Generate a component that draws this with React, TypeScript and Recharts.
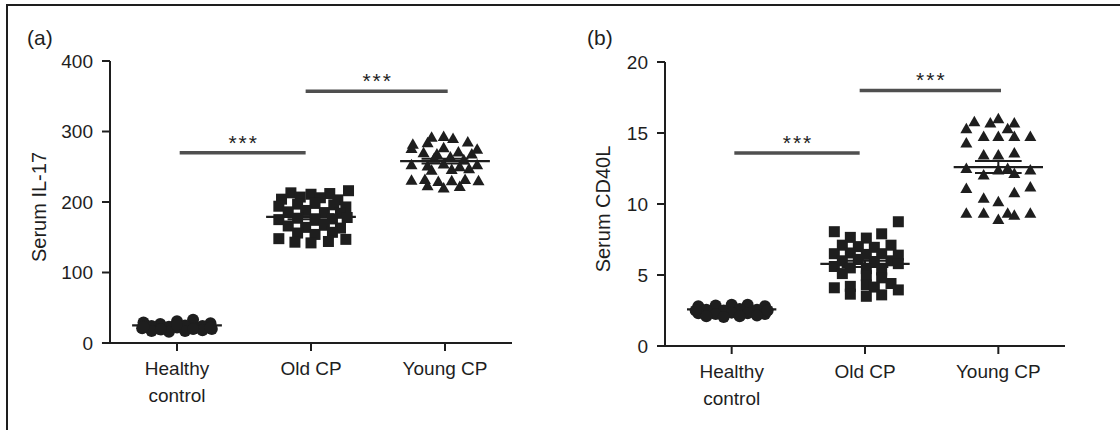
import React from 'react';
import { ScatterChart, Scatter, XAxis, YAxis, ReferenceLine } from 'recharts';

const FONT = '"Liberation Sans", Arial, Helvetica, sans-serif';
const INK = '#1e1e1e';
const BAR = '#4f4f4f';

const GROUP_TICKS = [0, 1, 2];
const GROUP_LABELS = [['Healthy', 'control'], ['Old CP'], ['Young CP']];

// ---- Panel (a): Serum IL-17 ----
const IL17_TICKS = [0, 100, 200, 300, 400];
const IL17_HEALTHY = [29, 27, 31, 33, 28, 24, 23, 25, 24, 21, 20, 22, 21, 20, 17, 16, 17, 18, 23, 19, 26, 20, 22];
const IL17_HEALTHY_JIT = [-0.25, -0.125, 0, 0.12, 0.25, -0.19, -0.06, 0.06, 0.19, -0.26, -0.13, 0, 0.13, 0.26, -0.19, -0.06, 0.06, 0.19, -0.25, -0.12, 0, 0.12, 0.25];
const IL17_OLD = [213, 211, 212, 216, 204, 207, 206, 203, 194, 197, 198, 196, 193, 186, 188, 185, 184, 175, 177, 174, 176, 178, 166, 164, 167, 163, 156, 154, 157, 148, 143, 142, 144, 147];
const IL17_OLD_JIT = [-0.15, 0, 0.14, 0.28, -0.22, -0.08, 0.07, 0.2, -0.24, -0.1, 0.03, 0.17, 0.26, -0.17, -0.04, 0.1, 0.22, -0.24, -0.1, 0.03, 0.16, 0.27, -0.17, -0.04, 0.1, 0.22, -0.1, 0.03, 0.16, -0.24, -0.12, 0, 0.13, 0.26];
const IL17_YOUNG = [292, 293, 290, 282, 284, 285, 276, 277, 275, 270, 268, 271, 268, 262, 264, 260, 253, 251, 254, 250, 253, 245, 246, 247, 231, 232, 229, 230, 232, 230, 223, 220, 222];
const IL17_YOUNG_JIT = [-0.1, -0.01, 0.06, -0.24, -0.13, 0.17, -0.25, -0.01, 0.24, -0.16, -0.06, 0.1, 0.2, -0.08, 0.04, 0.14, -0.25, -0.13, -0.01, 0.11, 0.24, -0.1, 0.05, 0.18, -0.25, -0.15, -0.05, 0.05, 0.15, 0.25, -0.13, -0.01, 0.11];
const IL17_MEANS = [25, 179, 258];
const IL17_SEM = [1.2, 3.5, 3.5];
const IL17_SIG_FROM = [0.02, 0.96];
const IL17_SIG_TO = [0.96, 2.02];
const IL17_SIG_Y = [270, 357];

// ---- Panel (b): Serum CD40L ----
const CD40L_TICKS = [0, 5, 10, 15, 20];
const CD40L_HEALTHY = [2.8, 2.85, 2.9, 2.9, 2.8, 2.55, 2.5, 2.6, 2.55, 2.3, 2.25, 2.35, 2.3, 2.25, 2.1, 2.05, 2.1, 2.15, 2.5, 2.5];
const CD40L_HEALTHY_JIT = [-0.25, -0.12, 0, 0.12, 0.25, -0.19, -0.06, 0.06, 0.19, -0.25, -0.12, 0, 0.12, 0.25, -0.19, -0.06, 0.06, 0.19, -0.27, 0.27];
const CD40L_OLD = [8.05, 8.75, 7.9, 7.65, 7.6, 7.1, 7.0, 6.95, 7.1, 6.5, 6.55, 6.45, 6.5, 6.4, 6.0, 6.1, 5.95, 6.0, 5.6, 5.5, 5.45, 5.35, 5.8, 5.1, 4.95, 4.8, 4.1, 4.2, 4.3, 4.15, 4.4, 3.95, 3.65, 3.5, 3.6];
const CD40L_OLD_JIT = [-0.23, 0.25, 0.125, -0.11, 0.01, -0.17, -0.05, 0.07, 0.195, -0.23, -0.11, 0.01, 0.125, 0.25, -0.17, -0.05, 0.07, 0.195, -0.23, -0.11, 0.01, 0.125, 0.25, -0.17, 0.01, 0.125, -0.23, -0.11, 0.01, 0.07, 0.195, 0.25, -0.11, 0.01, 0.125];
const CD40L_YOUNG = [15.3, 15.8, 15.7, 16.0, 15.3, 15.7, 14.75, 14.3, 14.75, 14.75, 14.75, 13.45, 13.45, 13.6, 12.5, 12.05, 12.4, 12.5, 12.15, 12.4, 11.1, 10.4, 10.15, 10.8, 11.2, 9.35, 9.35, 8.9, 9.35, 9.2, 9.35];
const CD40L_YOUNG_JIT = [-0.24, -0.18, -0.06, 0, 0.07, 0.12, 0.24, -0.24, -0.11, 0, 0.12, -0.11, 0, 0.12, -0.24, -0.11, 0, 0.07, 0.12, 0.24, -0.24, -0.11, 0, 0.12, 0.24, -0.24, -0.11, 0, 0.07, 0.12, 0.24];
const CD40L_MEANS = [2.58, 5.78, 12.6];
const CD40L_SEM = [0.05, 0.22, 0.42];
const CD40L_SIG_FROM = [0.02, 0.96];
const CD40L_SIG_TO = [0.96, 2.02];
const CD40L_SIG_Y = [13.6, 18.0];

type Pt = { x: number; y: number };
const toPoints = (g: number, vals: number[], jit: number[]): Pt[] => vals.map((v, i) => ({ x: g + jit[i], y: v }));

const CircleShape = (p: any) => <circle cx={p.cx} cy={p.cy} r={6} fill={INK} />;
const SquareShape = (p: any) => <rect x={p.cx - 5.5} y={p.cy - 5.5} width={11} height={11} fill={INK} />;
const TriangleShape = (p: any) => (
  <path d={`M${p.cx},${p.cy - 6} L${p.cx + 6},${p.cy + 4.5} L${p.cx - 6},${p.cy + 4.5} Z`} fill={INK} />
);
const StarShape = (p: any) => (
  <text x={p.cx + 1} y={p.cy - 3} textAnchor="middle" fontSize={21} letterSpacing={2} fill={INK} fontFamily={FONT}>
    ***
  </text>
);

const XTick = (p: any) => {
  const lines = GROUP_LABELS[Math.round(p.payload.value)] || [];
  return (
    <text x={p.x} y={p.y} textAnchor="middle" fontSize={19} fill={INK} fontFamily={FONT}>
      {lines.map((l, i) => (
        <tspan key={i} x={p.x} dy={i === 0 ? 22 : 26.5}>
          {l}
        </tspan>
      ))}
    </text>
  );
};

const YTitle = ({ tx, ty, text }: any) => (
  <text x={tx} y={ty} transform={`rotate(-90, ${tx}, ${ty})`} textAnchor="middle" fontSize={20} fill={INK} fontFamily={FONT}>
    {text}
  </text>
);

type PanelProps = {
  left: number;
  letter: string;
  title: string;
  titleX: number;
  ticks: number[];
  max: number;
  margin: { top: number; right: number; bottom: number; left: number };
  series: Pt[][];
  means: number[];
  sems: number[];
  sigFrom: number[];
  sigTo: number[];
  sigY: number[];
};

const SHAPES = [CircleShape, SquareShape, TriangleShape];

function Panel(props: PanelProps) {
  const { left, letter, title, titleX, ticks, max, margin, series, means, sems, sigFrom, sigTo, sigY } = props;
  const plotMidY = margin.top + (430 - margin.top - margin.bottom - 70) / 2 + 5;
  const stars = sigY.map((y, i) => ({ x: (sigFrom[i] + sigTo[i]) / 2, y }));
  return (
    <div style={{ position: 'absolute', left, top: 0, width: 560, height: 430 }}>
      <div style={{ position: 'absolute', left: 27, top: 26, fontSize: 21, fontFamily: FONT, color: INK, lineHeight: '24px' }}>
        {letter}
      </div>
      <ScatterChart width={560} height={430} margin={margin}>
        <XAxis
          type="number"
          dataKey="x"
          domain={[-0.5, 2.5]}
          ticks={GROUP_TICKS}
          interval={0}
          allowDataOverflow
          axisLine={false}
          tickLine={{ stroke: INK, strokeWidth: 2 }}
          tickSize={8}
          height={70}
          tick={<XTick />}
        />
        <YAxis
          type="number"
          dataKey="y"
          domain={[0, max]}
          ticks={ticks}
          interval={0}
          allowDataOverflow
          axisLine={{ stroke: INK, strokeWidth: 2 }}
          tickLine={{ stroke: INK, strokeWidth: 2 }}
          tickSize={8}
          tickMargin={9}
          width={70}
          tick={{ fontSize: 19, fill: INK, fontFamily: FONT }}
          label={<YTitle tx={titleX} ty={plotMidY} text={title} />}
        />
        <ReferenceLine
          segment={[{ x: -0.56, y: 0 }, { x: 2.5, y: 0 }]}
          stroke={INK}
          strokeWidth={2}
          ifOverflow="visible"
        />
        {series.map((pts, g) => (
          <Scatter key={g} data={pts} shape={SHAPES[g]} isAnimationActive={false} />
        ))}
        {means.map((m, g) => (
          <ReferenceLine key={'m' + g} segment={[{ x: g - 0.335, y: m }, { x: g + 0.335, y: m }]} stroke={INK} strokeWidth={2.2} ifOverflow="visible" />
        ))}
        {means.map((m, g) => (
          <ReferenceLine key={'su' + g} segment={[{ x: g - 0.175, y: m + sems[g] }, { x: g + 0.175, y: m + sems[g] }]} stroke={INK} strokeWidth={2} ifOverflow="visible" />
        ))}
        {means.map((m, g) => (
          <ReferenceLine key={'sl' + g} segment={[{ x: g - 0.175, y: m - sems[g] }, { x: g + 0.175, y: m - sems[g] }]} stroke={INK} strokeWidth={2} ifOverflow="visible" />
        ))}
        {means.map((m, g) => (
          <ReferenceLine key={'sv' + g} segment={[{ x: g, y: m - sems[g] }, { x: g, y: m + sems[g] }]} stroke={INK} strokeWidth={2} ifOverflow="visible" />
        ))}
        {sigY.map((y, i) => (
          <ReferenceLine key={'s' + i} segment={[{ x: sigFrom[i], y }, { x: sigTo[i], y }]} stroke={BAR} strokeWidth={3.5} ifOverflow="visible" />
        ))}
        <Scatter data={stars} shape={StarShape} isAnimationActive={false} />
      </ScatterChart>
    </div>
  );
}

export default function App() {
  const seriesA = [
    toPoints(0, IL17_HEALTHY, IL17_HEALTHY_JIT),
    toPoints(1, IL17_OLD, IL17_OLD_JIT),
    toPoints(2, IL17_YOUNG, IL17_YOUNG_JIT),
  ];
  const seriesB = [
    toPoints(0, CD40L_HEALTHY, CD40L_HEALTHY_JIT),
    toPoints(1, CD40L_OLD, CD40L_OLD_JIT),
    toPoints(2, CD40L_YOUNG, CD40L_YOUNG_JIT),
  ];
  return (
    <div style={{ position: 'absolute', left: 0, top: 0, width: 1120, height: 430, background: '#fff', overflow: 'hidden', fontFamily: FONT }}>
      <div style={{ position: 'absolute', left: 6, top: 4, width: 1200, height: 500, borderLeft: `2px solid ${INK}`, borderTop: `2px solid ${INK}` }} />
      <Panel
        left={0}
        letter="(a)"
        title="Serum IL-17"
        titleX={46}
        ticks={IL17_TICKS}
        max={400}
        margin={{ top: 61, right: 48, bottom: 17, left: 40 }}
        series={seriesA}
        means={IL17_MEANS}
        sems={IL17_SEM}
        sigFrom={IL17_SIG_FROM}
        sigTo={IL17_SIG_TO}
        sigY={IL17_SIG_Y}
      />
      <Panel
        left={560}
        letter="(b)"
        title="Serum CD40L"
        titleX={50}
        ticks={CD40L_TICKS}
        max={20}
        margin={{ top: 62, right: 55, bottom: 14, left: 35 }}
        series={seriesB}
        means={CD40L_MEANS}
        sems={CD40L_SEM}
        sigFrom={CD40L_SIG_FROM}
        sigTo={CD40L_SIG_TO}
        sigY={CD40L_SIG_Y}
      />
    </div>
  );
}
